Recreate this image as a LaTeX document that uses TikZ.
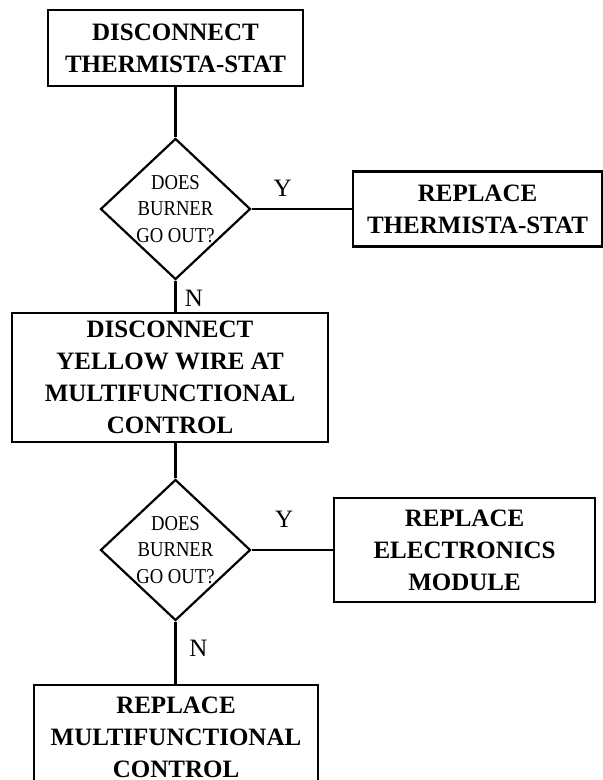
\documentclass[tikz,border=0pt]{standalone}
\usepackage{fontspec}
\setmainfont{Liberation Serif}
\newfontfamily\narrowserif[FakeStretch=0.88]{Liberation Serif}
\usetikzlibrary{shapes.geometric,positioning}

\tikzset{
  box/.style={draw, line width=1.1pt, align=center, inner sep=0pt,
    font=\bfseries\fontsize{12.5}{16}\selectfont},
  decision/.style={draw, diamond, line width=1.1pt, align=center, inner sep=-1.5pt,
    aspect=1.06, minimum width=75pt, minimum height=70.5pt,
    font=\narrowserif\fontsize{10.6}{13.25}\selectfont},
  link/.style={line width=1.1pt},
  tag/.style={font=\fontsize{12.5}{15}\selectfont}
}

\begin{document}
\begin{tikzpicture}[x=0.5pt, y=-0.5pt]
  \useasboundingbox (0,0) rectangle (603,780);

  % First test
  \node[box, minimum width=127.5pt, minimum height=38pt] (discstat) at (175.5,48) {DISCONNECT\\THERMISTA-STAT};
  \node[decision] (burner1) at (175.5,209) {DOES\\BURNER\\GO OUT?};
  \node[box, minimum width=124.5pt, minimum height=37.5pt] (replstat) at (477.5,209) {REPLACE\\THERMISTA-STAT};

  % Second test
  \node[box, minimum width=158pt, minimum height=64.5pt] (discwire) at (170,377.5) {DISCONNECT\\YELLOW WIRE AT\\MULTIFUNCTIONAL\\CONTROL};
  \node[decision] (burner2) at (175.5,550) {DOES\\BURNER\\GO OUT?};
  \node[box, minimum width=130.5pt, minimum height=52pt] (replmod) at (464.5,550) {REPLACE\\ELECTRONICS\\MODULE};

  % Last step
  \node[box, minimum width=142pt, minimum height=52pt] (replctrl) at (176,737) {REPLACE\\MULTIFUNCTIONAL\\CONTROL};

  % Connectors
  \draw[link] (discstat) -- (burner1);
  \draw[link] (burner1) -- node[tag, above=2.5pt, pos=.31] {Y} (replstat);
  \draw[link] (burner1.south) -- node[tag, right=0.8pt, yshift=-1pt] {N} (burner1.south |- discwire.north);
  \draw[link] (burner2.north |- discwire.south) -- (burner2.north);
  \draw[link] (burner2) -- node[tag, above=7.5pt, pos=.4] {Y} (replmod);
  \draw[link] (burner2.south) -- node[tag, right=3pt, yshift=2pt] {N} (burner2.south |- replctrl.north);
\end{tikzpicture}
\end{document}
